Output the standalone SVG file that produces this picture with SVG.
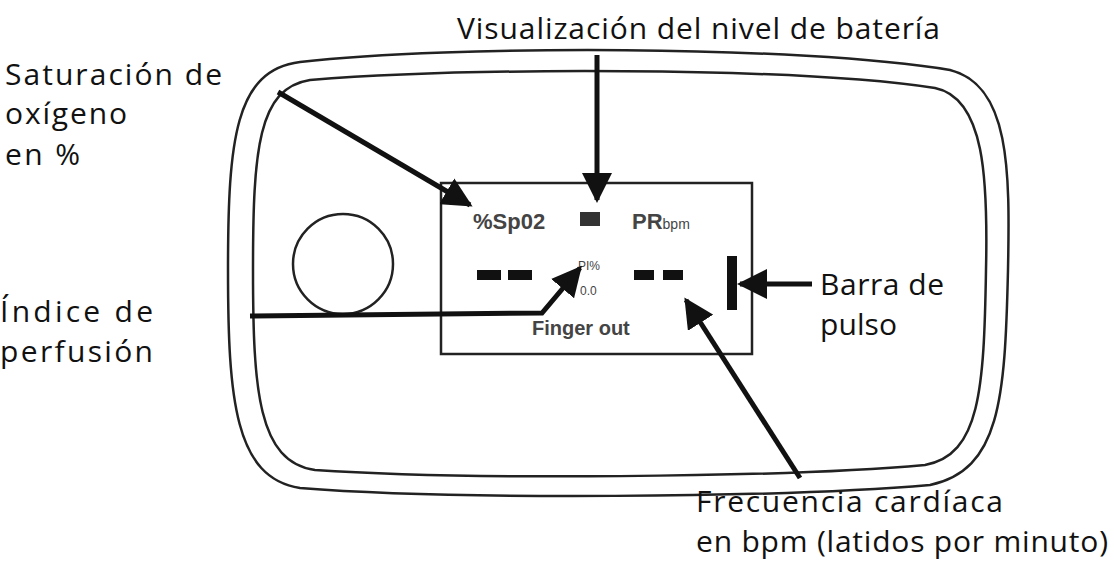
<svg xmlns="http://www.w3.org/2000/svg" width="1114" height="564" viewBox="0 0 1114 564">
<style>
.lbl{font-family:"Open Sans","Liberation Sans",sans-serif;font-size:30px;fill:#111}
.scr{font-family:"Liberation Sans",sans-serif;fill:#444}
.ln{stroke:#111;stroke-width:5;fill:none}
.body{stroke:#222;stroke-width:2.5;fill:none}
</style>
<defs>
<marker id="ah" viewBox="0 0 10 10" refX="9" refY="5" markerWidth="6" markerHeight="6" orient="auto" markerUnits="strokeWidth">
<path d="M0,0 L10,5 L0,10 z" fill="#111"/>
</marker>
</defs>
<rect width="1114" height="564" fill="#fff"/>
<g id="device">
<path class="body" d="M300,62 C450,45 800,45 950,70 C1010,85 1010,170 1008,270 C1005,400 1000,470 930,485 C780,498 450,500 300,488 C235,478 228,400 228,270 C228,140 235,70 300,62 Z"/>
<path class="body" d="M310,80 C460,68 790,66 935,88 C985,98 988,180 986,270 C984,390 980,455 925,465 C780,478 460,480 315,470 C258,462 253,390 253,270 C253,150 258,88 310,80 Z"/>
<circle class="body" cx="343" cy="264" r="50"/>
</g>
<g id="screen">
<rect x="441" y="183" width="311" height="171" fill="none" stroke="#222" stroke-width="2.5"/>
<text class="scr" x="473" y="229" font-size="22" font-weight="bold">%Sp02</text>
<rect x="580" y="212" width="20" height="14" fill="#333"/>
<text class="scr" x="632" y="229" font-size="22" font-weight="bold" fill="#222">PR<tspan font-size="14" font-weight="normal">bpm</tspan></text>
<rect x="477" y="270" width="24" height="10" fill="#111"/>
<rect x="508" y="270" width="24" height="10" fill="#111"/>
<text class="scr" x="578" y="270" font-size="12">PI%</text>
<text class="scr" x="580" y="295" font-size="12">0.0</text>
<rect x="634" y="270" width="20" height="10" fill="#111"/>
<rect x="663" y="270" width="20" height="10" fill="#111"/>
<text class="scr" x="532" y="335" font-size="20" font-weight="bold">Finger out</text>
<rect x="727" y="256" width="10" height="54" fill="#111"/>
</g>
<g id="connectors">
<line class="ln" x1="278" y1="92" x2="470" y2="205" marker-end="url(#ah)"/>
<line class="ln" x1="597" y1="55" x2="597" y2="200" marker-end="url(#ah)"/>
<polyline class="ln" points="250,316 542,313 580,268" marker-end="url(#ah)"/>
<line class="ln" x1="812" y1="284" x2="740" y2="284" marker-end="url(#ah)"/>
<line class="ln" x1="800" y1="478" x2="686" y2="300" marker-end="url(#ah)"/>
</g>
<g id="labels">
<text class="lbl" x="457" y="39" textLength="483">Visualización del nivel de batería</text>
<text class="lbl" x="5" y="85" textLength="217">Saturación de</text>
<text class="lbl" x="5" y="124" textLength="122">oxígeno</text>
<text class="lbl" x="5" y="165" textLength="75">en %</text>
<text class="lbl" x="0" y="322" textLength="153">Índice de</text>
<text class="lbl" x="0" y="362" textLength="153">perfusión</text>
<text class="lbl" x="820" y="295" textLength="124">Barra de</text>
<text class="lbl" x="820" y="335" textLength="77">pulso</text>
<text class="lbl" x="696" y="512" textLength="307">Frecuencia cardíaca</text>
<text class="lbl" x="696" y="552" textLength="412">en bpm (latidos por minuto)</text>
</g>
</svg>
